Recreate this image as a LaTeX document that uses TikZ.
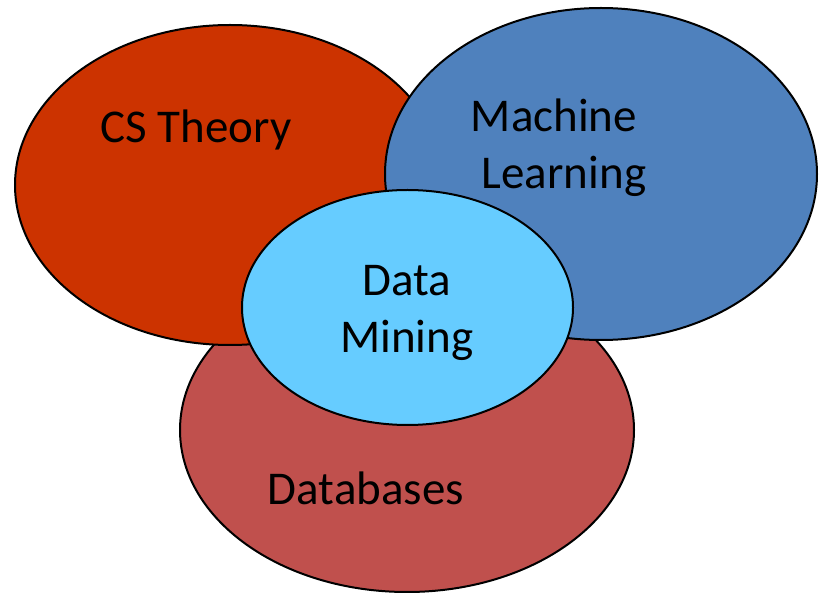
\documentclass[tikz,border=0pt]{standalone}
\usepackage{fontspec}
\setmainfont{Carlito}
\usetikzlibrary{shapes.geometric}
\definecolor{cstheory}{HTML}{CC3300}
\definecolor{mlblue}{HTML}{4F81BD}
\definecolor{dbred}{HTML}{C0504D}
\definecolor{dmcyan}{HTML}{66CCFF}
\begin{document}
\begin{tikzpicture}[x=1pt,y=-1pt,
  blob/.style={ellipse,draw=black,line width=2pt,inner sep=0pt,outer sep=0pt},
  lbl/.style={font=\fontsize{47}{57}\selectfont,text=black,inner sep=0pt,anchor=base}]
\useasboundingbox (0,0) rectangle (820,593);
\node[blob,fill=dbred,minimum width=454pt,minimum height=324pt] (db) at (407,430) {};
\node[blob,fill=cstheory,minimum width=430pt,minimum height=320pt] (cs) at (230,185) {};
\node[blob,fill=mlblue,minimum width=432pt,minimum height=332pt] (ml) at (601,174) {};
\node[blob,fill=dmcyan,minimum width=331pt,minimum height=235pt] (dm) at (407.5,307.5) {};
\node[lbl] (tcs) at (196,143) {CS Theory};
\node[lbl,align=left] (tml) at (558.5,189) {Machine\\\hspace*{11pt}Learning};
\node[lbl,align=center] (tdm) at (407,353) {Data\\Mining};
\node[lbl] (tdb) at (366,505) {Databases};
\end{tikzpicture}
\end{document}
